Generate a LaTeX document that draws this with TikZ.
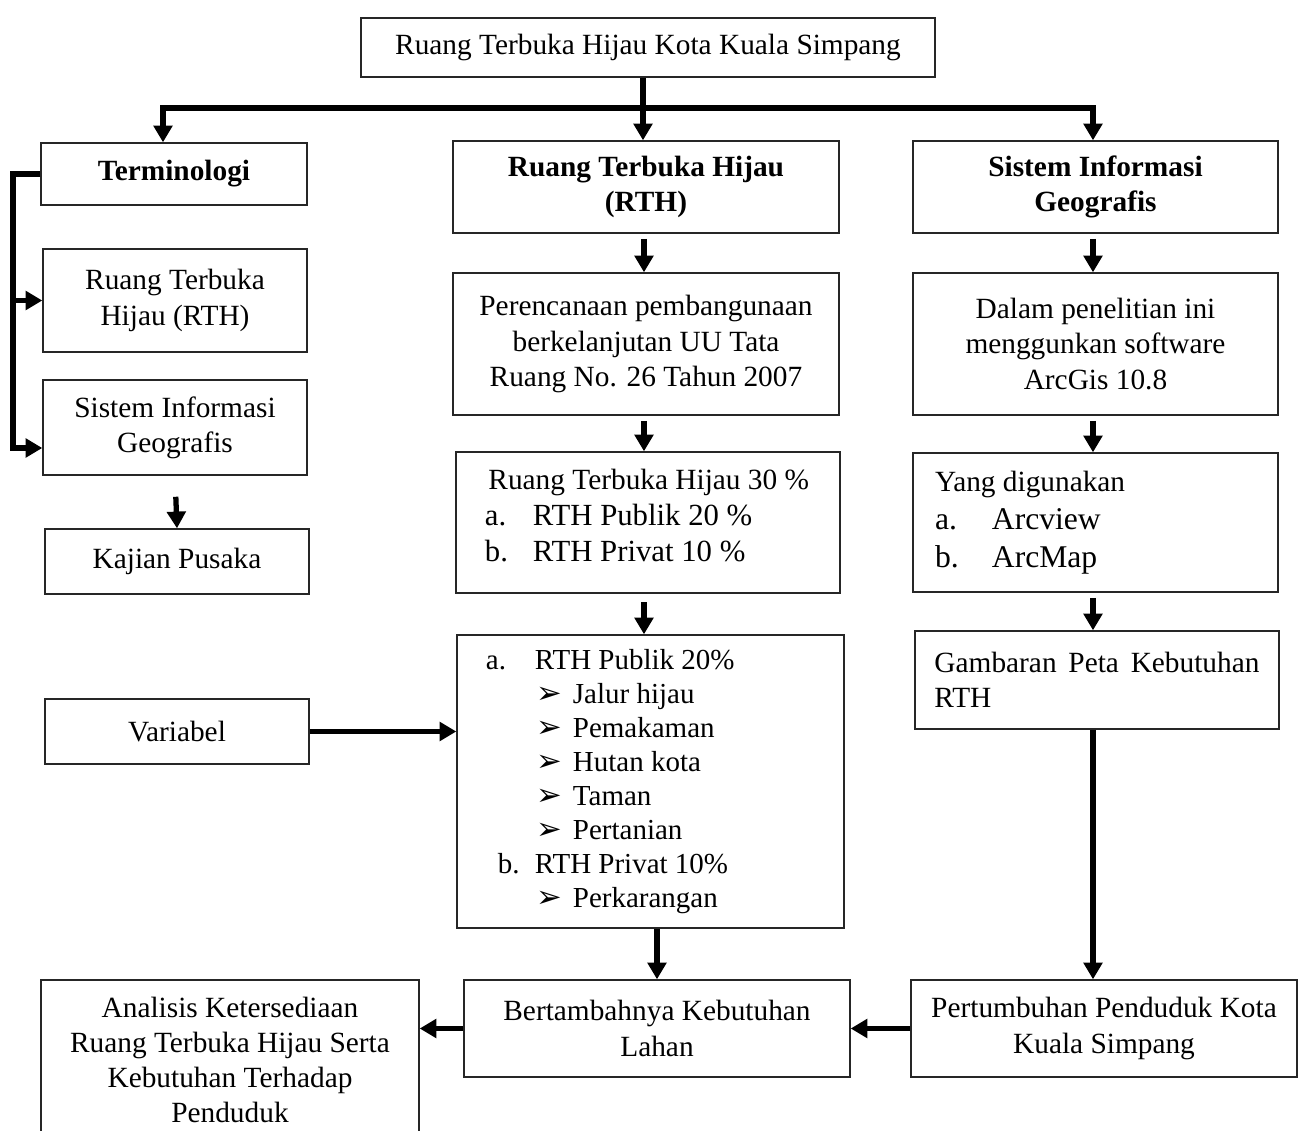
\documentclass[tikz,border=0pt]{standalone}
\usepackage{fontspec}
\setmainfont{Liberation Serif}
\newfontfamily\symfont{DejaVu Sans}
\usetikzlibrary{arrows.meta}

% arrow-head bullet used in the list boxes
\newcommand{\arrbul}{{\symfont\fontsize{17.5}{17.5}\selectfont ➢}}

\tikzset{
  % frame={x1}{y1}{x2}{y2}: rectangle between two corners, in picture units
  frame/.style n args={4}{at={({(#1+#3)/2},{(#2+#4)/2})},
      minimum width={(#3-#1)*0.02cm}, minimum height={(#4-#2)*0.02cm}},
  box/.style={draw=black!85, line width=0.8pt, inner sep=0pt, align=center,
              font=\fontsize{16.7}{20}\selectfont},
  arr/.style={line width=3pt, line join=miter,
              -{Triangle[width=10.5pt,length=9.5pt]}},
  arrtwo/.style={line width=3pt, line join=miter,
              {Triangle[width=10.5pt,length=9.5pt]}-{Triangle[width=10.5pt,length=9.5pt]}},
}

\begin{document}
\begin{tikzpicture}[x=0.02cm,y=-0.02cm]
  \useasboundingbox (0,0) rectangle (1303,1131);
  \fill[white] (0,0) rectangle (1303,1131);
  \clip (0,0) rectangle (1303,1131);

  % title
  \node[box, frame={361}{18}{935}{77}] (top) {Ruang Terbuka Hijau Kota Kuala Simpang};

  % left column
  \node[box, frame={41}{143}{307}{205}] (term) {\bfseries Terminologi};
  \node[box, frame={43}{249}{307}{352}] (rthl) {Ruang Terbuka\\Hijau (RTH)};
  \node[box, frame={43}{380}{307}{475}] (sigl) {Sistem Informasi\\Geografis};
  \node[box, frame={45}{529}{309}{594}] (kaj) {Kajian Pusaka};
  \node[box, frame={45}{699}{309}{764}] (var) {Variabel};
  \node[box, frame={41}{980}{419}{1140}] (ana)
    {Analisis Ketersediaan\\Ruang Terbuka Hijau Serta\\Kebutuhan Terhadap\\Penduduk};

  % middle column
  \node[box, frame={453}{141}{839}{233}] (rth) {\bfseries Ruang Terbuka Hijau\\\bfseries (RTH)};
  \node[box, frame={453}{273}{839}{415}] (plan)
    {Perencanaan pembangunaan\\berkelanjutan UU Tata\\Ruang No. 26 Tahun 2007};
  \node[box, frame={456}{452}{840}{593}] (rth30)
    {\begin{minipage}{185.6pt}\raggedright
     \hspace*{2pt}Ruang Terbuka Hijau 30 \%\par
     {\fontsize{17.5}{20.5}\selectfont\makebox[27.3pt][l]{a.}RTH Publik 20 \%\par
     \makebox[27.3pt][l]{b.}RTH Privat 10 \%\par}
     \vspace{8pt}
     \end{minipage}};
  \node[box, frame={457}{635}{844}{928}] (list)
    {\begin{minipage}{187.3pt}\raggedright\fontsize{16.5}{19.4}\selectfont
     \makebox[27.9pt][l]{a.}RTH Publik 20\%\par
     \hspace*{29pt}\makebox[20.5pt][l]{\arrbul}Jalur hijau\par
     \hspace*{29pt}\makebox[20.5pt][l]{\arrbul}Pemakaman\par
     \hspace*{29pt}\makebox[20.5pt][l]{\arrbul}Hutan kota\par
     \hspace*{29pt}\makebox[20.5pt][l]{\arrbul}Taman\par
     \hspace*{29pt}\makebox[20.5pt][l]{\arrbul}Pertanian\par
     \hspace*{6.8pt}\makebox[21.1pt][l]{b.}RTH Privat 10\%\par
     \hspace*{29pt}\makebox[20.5pt][l]{\arrbul}Perkarangan\par
     \end{minipage}};
  \node[box, frame={464}{980}{850}{1077}] (bert) {Bertambahnya Kebutuhan\\Lahan};

  % right column
  \node[box, frame={913}{141}{1278}{233}] (sig) {\bfseries Sistem Informasi\\\bfseries Geografis};
  \node[box, frame={913}{273}{1278}{415}] (soft)
    {Dalam penelitian ini\\menggunkan software\\ArcGis 10.8};
  \node[box, frame={913}{453}{1278}{592}] (used)
    {\begin{minipage}{182.7pt}\raggedright
     Yang digunakan\par
     {\fontsize{18}{21.5}\selectfont\makebox[32.4pt][l]{a.}Arcview\par
     \makebox[32.4pt][l]{b.}ArcMap\par}
     \end{minipage}};
  \node[box, frame={915}{631}{1279}{729}] (peta)
    {\begin{minipage}{185pt}
     Gambaran Peta Kebutuhan\linebreak RTH
     \end{minipage}};
  \node[box, frame={911}{980}{1297}{1077}] (pend) {Pertumbuhan Penduduk Kota\\Kuala Simpang};

  % branch from the title
  \coordinate (jm) at (643,108);
  \coordinate (jl) at (163,108);
  \coordinate (jr) at (1093,108);
  \draw[arr] (jm |- top.south) -- (jm |- rth.north);
  \draw[arrtwo] (jl |- term.north) -- (jl) -- (jr) -- (jr |- sig.north);

  % bracket on the left
  \coordinate (bt) at (13,174);
  \coordinate (bb) at (13,448);
  \draw[arr] (term.west) -- (bt) -- (bb) -- (bb -| sigl.west);
  \draw[arr] (bt |- rthl.west) -- (rthl.west);
  \draw[arr, shorten <=12pt] (sigl.south) -- (kaj.north);
  \draw[arr] (var.east) -- (var.east -| list.west);

  % middle column flow
  \coordinate (mc) at (644,0);
  \draw[arr, shorten <=3pt] (mc |- rth.south) -- (mc |- plan.north);
  \draw[arr, shorten <=3pt] (mc |- plan.south) -- (mc |- rth30.north);
  \draw[arr, shorten <=5pt] (mc |- rth30.south) -- (mc |- list.north);
  \draw[arr] (bert.north |- list.south) -- (bert.north);

  % right column flow
  \coordinate (rc) at (1093,0);
  \draw[arr, shorten <=3pt] (rc |- sig.south) -- (rc |- soft.north);
  \draw[arr, shorten <=3pt] (rc |- soft.south) -- (rc |- used.north);
  \draw[arr, shorten <=3pt] (rc |- used.south) -- (rc |- peta.north);
  \draw[arr] (rc |- peta.south) -- (rc |- pend.north);

  % bottom row
  \draw[arr] (pend.west) -- (bert.east);
  \draw[arr] (bert.west) -- (bert.west -| ana.east);
\end{tikzpicture}
\end{document}
